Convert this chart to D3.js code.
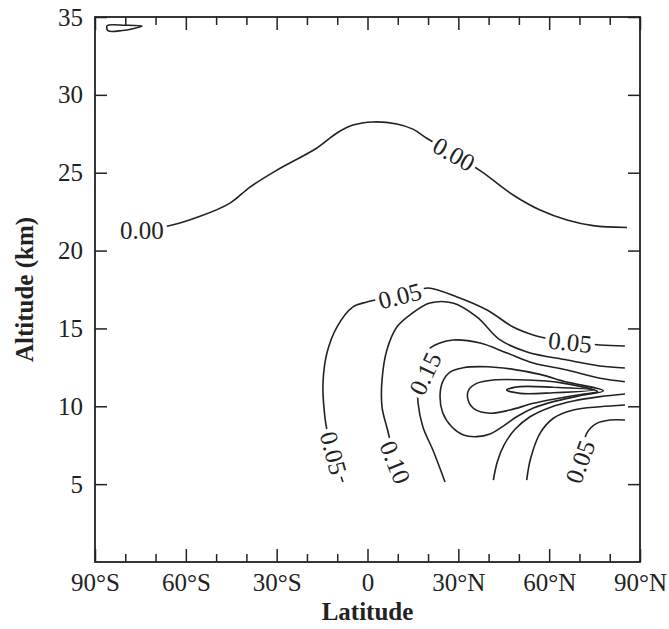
<!DOCTYPE html>
<html>
<head>
<meta charset="utf-8">
<script src="https://cdn.jsdelivr.net/npm/d3@7"></script>
<style>
  html, body { margin: 0; background: #fff; overflow: hidden; }
  svg { display: block; }
  svg text { font-family: "Liberation Serif", "Times New Roman", serif; fill: #222; }
</style>
</head>
<body>
<svg id="chart" width="669" height="629"></svg>
<script>
// tick values
const xMajorTicks = [-90, -60, -30, 0, 30, 60, 90];
const xMinorTicks = [-80, -70, -50, -40, -20, -10, 10, 20, 40, 50, 70, 80];
const yTicks = [5, 10, 15, 20, 25, 30, 35];

// contour lines as [latitude, altitude km]
const c000 = [[-82, 21.35], [-65.9, 21.58], [-55.3, 22.2], [-45.4, 23.05], [-38.8, 24.08], [-29.9, 25.17],
  [-16.7, 26.59], [-10.1, 27.55], [-4.8, 28.06], [1.8, 28.26], [9.7, 28.13], [15, 27.8], [19.7, 27.2],
  [28.6, 26.2], [37.8, 25.05], [48.1, 23.57], [57.0, 22.6], [65.9, 21.96], [74.5, 21.6], [85.7, 21.48]];
const c000TopLeft = [[-86, 34.44], [-80, 34.47], [-74.5, 34.42], [-77.5, 34.25], [-81, 34.13], [-85.7, 34.12]];
const c005Upper = [[-8.1, 5.14], [-11.1, 6.87], [-13.4, 8.48], [-14.4, 9.95], [-14.7, 11.5], [-13.4, 13.42],
  [-10.1, 15.09], [-4.8, 16.38], [-0.2, 16.7], [4.1, 16.89], [10.1, 17.15], [15.7, 17.4], [20.0, 17.6],
  [29.6, 17.02], [39.5, 16.18], [48.1, 15.09], [54.7, 14.58], [60.3, 14.32], [66.9, 14.13], [76.8, 13.94], [85.0, 13.87]];
const c010Upper = [[10.7, 5.07], [6.8, 8.35], [4.8, 9.95], [4.8, 11.69], [6.4, 13.61], [9.7, 15.09], [14.0, 15.86],
  [20.6, 16.63], [28.2, 16.63], [36.2, 15.73], [43.8, 14.26], [52.7, 13.49], [65.9, 12.97], [76.8, 12.59], [85.0, 12.46]];
const c015Upper = [[25.6, 5.14], [21.6, 7.19], [18.3, 8.67], [16.7, 10.21], [16.7, 12.01], [20.0, 13.61], [23.9, 14.06],
  [28.2, 14.26], [37.2, 14.06], [46.1, 13.42], [54.7, 12.78], [65.9, 12.33], [76.8, 11.8], [85.0, 11.58]];
const c020Loop = [[77.9, 11.0], [65.78, 11.56], [56.97, 12.05], [48.17, 12.37], [39.36, 12.54], [31.65, 12.48],
  [27.25, 12.2], [24.83, 11.58], [23.95, 10.62], [24.83, 9.59], [27.8, 8.69], [31.65, 8.16], [36.06, 8.05],
  [40.46, 8.22], [44.86, 8.73], [49.27, 9.33], [54.77, 9.89], [61.38, 10.3], [70.19, 10.68]];
const c025Loop = [[76.0, 10.94], [63.58, 11.52], [52.57, 11.69], [41.56, 11.69], [36.06, 11.47], [33.3, 11.0],
  [33.3, 10.36], [35.5, 9.8], [40.46, 9.55], [47.07, 9.76], [54.77, 10.19], [63.58, 10.53], [71.5, 10.79]];
const c030Loop = [[74.59, 11.05], [61.38, 11.22], [50.37, 11.26], [45.97, 11.05], [50.37, 10.83], [61.38, 10.87]];
const c015Lower = [[41.56, 5.26], [42.88, 6.44], [45.08, 7.51], [48.72, 8.52], [53.67, 9.33], [60.28, 9.93],
  [67.99, 10.34], [76.79, 10.62], [85.05, 10.79]];
const c010Lower = [[52.57, 5.26], [53.89, 6.66], [56.97, 8.26], [61.38, 9.23], [67.99, 9.76], [76.79, 9.97], [85.05, 10.08]];
const c005Lower = [[69.63, 5.16], [70.73, 6.76], [72.39, 8.26], [75.69, 8.9], [80.09, 9.12], [85.05, 9.12]];

const openLines = [c000, c005Upper, c010Upper, c015Upper, c015Lower, c010Lower, c005Lower];
const closedLines = [c000TopLeft, c020Loop, c025Loop, c030Loop];

// contour labels: [text, latitude, altitude, angle]
const labels = [
  ["0.00", -74.5, 21.3, 0],
  ["0.00", 28.6, 26.2, 30],
  ["0.05", 10.7, 17.1, -14],
  ["0.05", 66.9, 14.13, 6],
  ["0.05", -11.2, 7.0, 75],
  ["0.10", 9.2, 6.4, 68],
  ["0.15", 19, 12.1, -65],
  ["0.05", 70.2, 6.44, -70]
];

const margin = { top: 17, right: 29, bottom: 67, left: 95 };
const width = 669, height = 629;
const innerWidth = width - margin.left - margin.right;
const innerHeight = height - margin.top - margin.bottom;

const svg = d3.select("#chart");
const g = svg.append("g").attr("transform", `translate(${margin.left},${margin.top})`);

const x = d3.scaleLinear().domain([-90, 90]).range([0, innerWidth]);
const y = d3.scaleLinear().domain([0, 35]).range([innerHeight, 0]);

const ink = "#222";

// frame
g.append("rect")
  .attr("width", innerWidth).attr("height", innerHeight)
  .attr("fill", "none").attr("stroke", ink).attr("stroke-width", 1.8);

// axes
function styleAxis(sel) {
  sel.select(".domain").remove();
  sel.selectAll("line").attr("stroke", ink).attr("stroke-width", 1.5);
  sel.selectAll("text").style("font-size", "25px").attr("fill", ink);
}
const fmtLat = d => d === 0 ? "0" : `${Math.abs(d)}°${d < 0 ? "S" : "N"}`;

g.append("g").attr("transform", `translate(0,${innerHeight})`)
  .call(d3.axisBottom(x).tickValues(xMajorTicks).tickSize(-13).tickPadding(11).tickFormat(fmtLat))
  .call(styleAxis);
g.append("g").attr("transform", `translate(0,${innerHeight})`)
  .call(d3.axisBottom(x).tickValues(xMinorTicks).tickSize(-8).tickFormat(""))
  .call(styleAxis);
g.append("g")
  .call(d3.axisTop(x).tickValues(xMajorTicks).tickSize(-13).tickFormat(""))
  .call(styleAxis);
g.append("g")
  .call(d3.axisTop(x).tickValues(xMinorTicks).tickSize(-8).tickFormat(""))
  .call(styleAxis);
g.append("g")
  .call(d3.axisLeft(y).tickValues(yTicks).tickSize(-12).tickPadding(12).tickFormat(d3.format("d")))
  .call(styleAxis);
g.append("g").attr("transform", `translate(${innerWidth},0)`)
  .call(d3.axisRight(y).tickValues(yTicks).tickSize(-12).tickFormat(""))
  .call(styleAxis);
// blank tick labels are not needed
g.selectAll(".tick text").filter(function () { return this.textContent === ""; }).remove();

// contours
const line = d3.line().x(d => x(d[0])).y(d => y(d[1])).curve(d3.curveCatmullRom.alpha(0.5));
const loop = d3.line().x(d => x(d[0])).y(d => y(d[1])).curve(d3.curveCatmullRomClosed.alpha(0.5));

g.selectAll("path.contour").data(openLines).join("path")
  .attr("class", "contour")
  .attr("d", line)
  .attr("fill", "none").attr("stroke", ink).attr("stroke-width", 1.6);

g.selectAll("path.loop").data(closedLines).join("path")
  .attr("class", "loop")
  .attr("d", loop)
  .attr("fill", "none").attr("stroke", ink).attr("stroke-width", 1.6);

// contour labels on a white patch that breaks the line
labels.forEach(([t, lat, alt, ang]) => {
  const lg = g.append("g").attr("transform", `translate(${x(lat)},${y(alt)}) rotate(${ang})`);
  const txt = lg.append("text")
    .attr("class", "clabel")
    .attr("text-anchor", "middle")
    .attr("dy", "0.35em")
    .style("font-size", "25px")
    .text(t);
  const bb = txt.node().getBBox();
  lg.insert("rect", "text")
    .attr("x", bb.x - 3).attr("y", bb.y + 2)
    .attr("width", bb.width + 6).attr("height", bb.height - 4)
    .attr("fill", "#fff");
});

// axis titles
svg.append("text")
  .attr("x", margin.left + innerWidth / 2).attr("y", 620)
  .attr("text-anchor", "middle")
  .style("font-size", "25px").style("font-weight", "bold")
  .text("Latitude");
svg.append("text")
  .attr("transform", `translate(33,${margin.top + innerHeight / 2}) rotate(-90)`)
  .attr("text-anchor", "middle")
  .style("font-size", "25px").style("font-weight", "bold")
  .text("Altitude (km)");
</script>
</body>
</html>
